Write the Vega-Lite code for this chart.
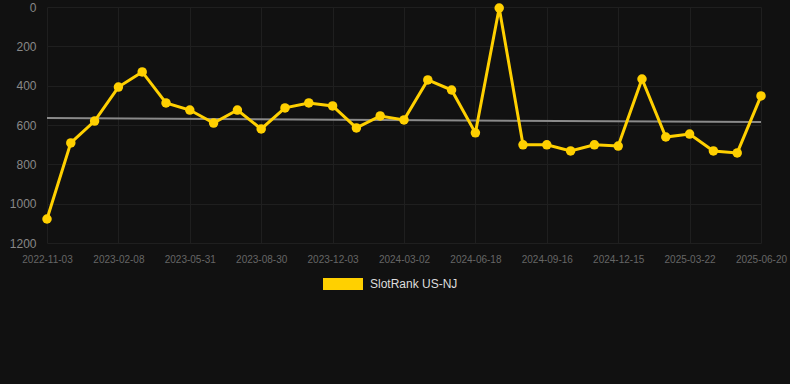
{
  "$schema": "https://vega.github.io/schema/vega-lite/v6.json",
  "autosize": "none",
  "width": 748,
  "height": 236,
  "padding": {"left": 40, "top": 7, "right": 2, "bottom": 141},
  "background": "#111111",
  "config": {
    "view": {"stroke": null},
    "font": "Liberation Sans",
    "axis": {"gridColor": "#1f1f1f", "gridWidth": 1, "domain": false, "ticks": false}
  },
  "datasets": {
    "rank": [
      {"date": "2022-11-03", "rank": 1078, "series": "SlotRank US-NJ"},
      {"date": "2022-12-05", "rank": 691, "series": "SlotRank US-NJ"},
      {"date": "2023-01-06", "rank": 580, "series": "SlotRank US-NJ"},
      {"date": "2023-02-08", "rank": 407, "series": "SlotRank US-NJ"},
      {"date": "2023-03-16", "rank": 330, "series": "SlotRank US-NJ"},
      {"date": "2023-04-23", "rank": 488, "series": "SlotRank US-NJ"},
      {"date": "2023-05-31", "rank": 524, "series": "SlotRank US-NJ"},
      {"date": "2023-07-01", "rank": 590, "series": "SlotRank US-NJ"},
      {"date": "2023-07-31", "rank": 524, "series": "SlotRank US-NJ"},
      {"date": "2023-08-30", "rank": 620, "series": "SlotRank US-NJ"},
      {"date": "2023-10-01", "rank": 513, "series": "SlotRank US-NJ"},
      {"date": "2023-11-01", "rank": 488, "series": "SlotRank US-NJ"},
      {"date": "2023-12-03", "rank": 503, "series": "SlotRank US-NJ"},
      {"date": "2024-01-02", "rank": 615, "series": "SlotRank US-NJ"},
      {"date": "2024-02-01", "rank": 554, "series": "SlotRank US-NJ"},
      {"date": "2024-03-02", "rank": 574, "series": "SlotRank US-NJ"},
      {"date": "2024-04-07", "rank": 371, "series": "SlotRank US-NJ"},
      {"date": "2024-05-13", "rank": 422, "series": "SlotRank US-NJ"},
      {"date": "2024-06-18", "rank": 640, "series": "SlotRank US-NJ"},
      {"date": "2024-07-18", "rank": 5, "series": "SlotRank US-NJ"},
      {"date": "2024-08-17", "rank": 701, "series": "SlotRank US-NJ"},
      {"date": "2024-09-16", "rank": 701, "series": "SlotRank US-NJ"},
      {"date": "2024-10-16", "rank": 732, "series": "SlotRank US-NJ"},
      {"date": "2024-11-15", "rank": 701, "series": "SlotRank US-NJ"},
      {"date": "2024-12-15", "rank": 707, "series": "SlotRank US-NJ"},
      {"date": "2025-01-24", "rank": 366, "series": "SlotRank US-NJ"},
      {"date": "2025-02-27", "rank": 661, "series": "SlotRank US-NJ"},
      {"date": "2025-03-22", "rank": 646, "series": "SlotRank US-NJ"},
      {"date": "2025-04-21", "rank": 732, "series": "SlotRank US-NJ"},
      {"date": "2025-05-21", "rank": 742, "series": "SlotRank US-NJ"},
      {"date": "2025-06-20", "rank": 452, "series": "SlotRank US-NJ"}
    ],
    "trend": [
      {"date": "2022-11-03", "rank": 565},
      {"date": "2025-06-20", "rank": 585}
    ]
  },
  "encoding": {
    "x": {
      "field": "date",
      "type": "ordinal",
      "sort": null,
      "scale": {
        "type": "point",
        "range": [7, 721],
        "padding": 0,
        "domain": ["2022-11-03", "2022-12-05", "2023-01-06", "2023-02-08", "2023-03-16", "2023-04-23", "2023-05-31", "2023-07-01", "2023-07-31", "2023-08-30", "2023-10-01", "2023-11-01", "2023-12-03", "2024-01-02", "2024-02-01", "2024-03-02", "2024-04-07", "2024-05-13", "2024-06-18", "2024-07-18", "2024-08-17", "2024-09-16", "2024-10-16", "2024-11-15", "2024-12-15", "2025-01-24", "2025-02-27", "2025-03-22", "2025-04-21", "2025-05-21", "2025-06-20"]
      },
      "axis": {
        "title": null,
        "labelAngle": 0,
        "values": ["2022-11-03", "2023-02-08", "2023-05-31", "2023-08-30", "2023-12-03", "2024-03-02", "2024-06-18", "2024-09-16", "2024-12-15", "2025-03-22", "2025-06-20"],
        "labelColor": "#666666",
        "labelFontSize": 10,
        "labelPadding": 11,
        "grid": true
      }
    },
    "y": {
      "field": "rank",
      "type": "quantitative",
      "scale": {"domain": [0, 1200], "reverse": true},
      "axis": {
        "title": null,
        "values": [0, 200, 400, 600, 800, 1000, 1200],
        "format": "d",
        "labelColor": "#888888",
        "labelFontSize": 12,
        "labelPadding": 4,
        "labelOverlap": false,
        "grid": true
      }
    }
  },
  "layer": [
    {
      "data": {"name": "trend"},
      "mark": {"type": "line", "color": "#8a8a8a", "strokeWidth": 2}
    },
    {
      "data": {"name": "rank"},
      "mark": {"type": "line", "strokeWidth": 3, "point": {"size": 90, "filled": true, "opacity": 1}},
      "encoding": {
        "color": {
          "field": "series",
          "type": "nominal",
          "scale": {"range": ["#FFD000"]},
          "legend": {
            "title": null,
            "orient": "none",
            "legendX": 283,
            "legendY": 257,
            "symbolType": "M-1,-0.3H1V0.3H-1Z",
            "symbolSize": 1600,
            "symbolStrokeWidth": 0,
            "symbolOpacity": 1,
            "labelColor": "#dddddd",
            "labelFontSize": 12,
            "labelOffset": 7
          }
        }
      }
    }
  ]
}
